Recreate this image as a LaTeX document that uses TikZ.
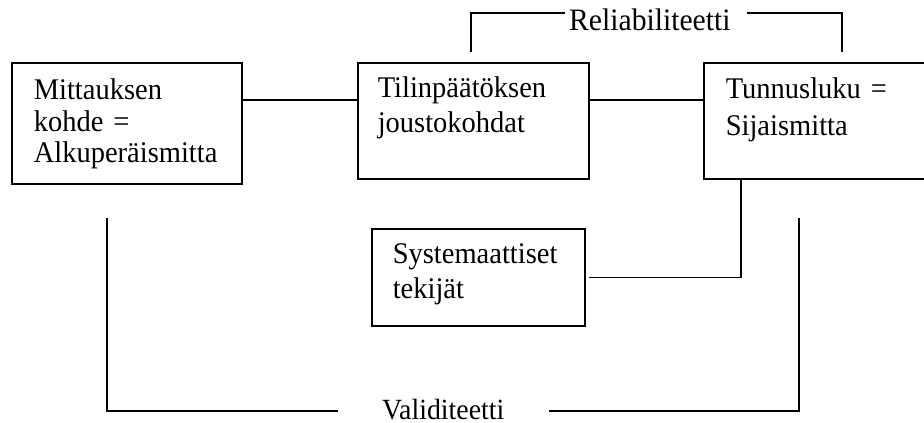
\documentclass[tikz,border=0pt]{standalone}
\usepackage{fontspec}
\setmainfont[FakeStretch=0.95]{Liberation Serif}
\begin{document}
\begin{tikzpicture}[x=1pt,y=-1pt,
  every node/.style={font=\fontsize{30}{35}\selectfont},
  block/.style={draw, line width=1.6pt, anchor=north west, align=left, inner ysep=0pt},
  link/.style={line width=1.6pt}]
\clip (0,0) rectangle (924,423);

% boxes: text height/depth fix the first baseline and the box height
\node[block, font=\fontsize{30}{31.5}\selectfont, inner xsep=22, text width=186,
      text height=37, text depth=84] (A) at (11,62)
  {Mittauksen\\kohde =\\Alkuperäismitta};
\node[block, inner xsep=20, text width=191, text height=35, text depth=81] (B) at (357,62)
  {Tilinpäätöksen\\joustokohdat};
\node[block, font=\fontsize{30}{36.5}\selectfont, inner xsep=22, text width=210,
      text height=36, text depth=80] (C) at (703,62)
  {Tunnusluku =\\Sijaismitta};
\node[block, inner xsep=21, text width=171, text height=35, text depth=62] (D) at (371,228)
  {Systemaattiset\\tekijät};

% chain along the top row
\coordinate (row) at (0,100);
\draw[link] (A.east |- row) -- (B.west |- row);
\draw[link] (B.east |- row) -- (C.west |- row);

% reliability bracket
\node[anchor=base west, inner sep=0pt, font=\fontsize{31.2}{35}\selectfont] (rel) at (569,30) {Reliabiliteetti};
\coordinate (relL) at (471,13);
\coordinate (relA) at (565,13);
\coordinate (relB) at (747,13);
\coordinate (relR) at (842,13);
\draw[link] ([yshift=10pt]B.north -| relL) |- (relA);
\draw[link] (relB) -| ([yshift=10pt]C.north -| relR);

% systematic factors feeding the ratio
\coordinate (sysx) at (741,0);
\draw[link] (C.south -| sysx) |- ([xshift=3pt]D.east);

% validity bracket
\node[anchor=base west, inner sep=0pt, font=\fontsize{29.3}{35}\selectfont] (val) at (382,419.5) {Validiteetti};
\coordinate (vLtop) at (107,218);
\coordinate (vLend) at (338,411);
\coordinate (vRstart) at (549,411);
\coordinate (vRtop) at (799,218);
\draw[link] (vLtop) |- (vLend);
\draw[link] (vRstart) -| (vRtop);
\end{tikzpicture}
\end{document}
